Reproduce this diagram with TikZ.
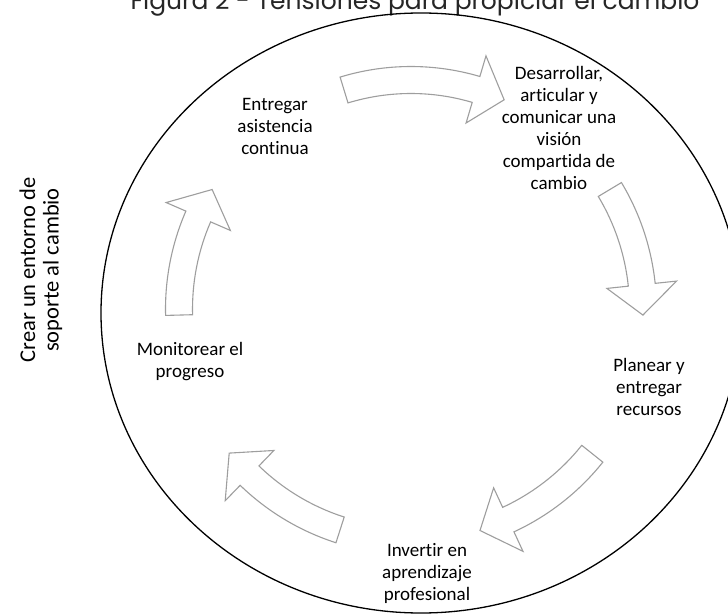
\documentclass[tikz,border=0pt]{standalone}
\usepackage{fontspec}
\setmainfont{Carlito}[Ligatures={NoCommon}]
\newfontfamily\titlefont{Poppins}
\usetikzlibrary{calc}

\begin{document}
\begin{tikzpicture}[
  x=1pt, y=1pt,
  lbl/.style={align=center, font=\fontsize{19}{22}\selectfont, inner sep=0pt},
  side/.style={align=center, font=\fontsize{22.5}{23.5}\selectfont, inner sep=0pt, rotate=90},
  flow/.style={draw=black!38, fill=white, line width=1.1pt, line join=miter},
  ring/.style={draw=black, line width=1.3pt},
]
\useasboundingbox (0,0) rectangle (728,614);
\clip (0,0) rectangle (728,614);
\coordinate (c) at (411,305);

\node[font=\titlefont\fontsize{25}{29}\selectfont, text=black!85, anchor=base] (title) at (415,604) {Figura 2 - Tensiones para propiciar el cambio};
\draw[ring] (421,301) ellipse [x radius=320, y radius=300];

\foreach \a/\b/\r in {107/66/229, 31/-1.5/232, -38.6/-72.7/232, -107.8/-141.6/232, 181.5/149/232}{
  \pgfmathsetmacro{\h}{\b+7.5}
  \draw[flow] ($(c)+(\a:\r+13.5)$) arc[start angle=\a, end angle=\h, radius=\r+13.5]
    -- ($(c)+(\h:\r+35)$) -- ($(c)+(\b:\r)$) -- ($(c)+(\h:\r-35)$)
    -- ($(c)+(\h:\r-13.5)$) arc[start angle=\h, end angle=\a, radius=\r-13.5] -- cycle;
}

\node[lbl] (entregar) at (275,488) {Entregar\\asistencia\\continua};
\node[lbl] (desarrollar) at (559,486) {Desarrollar,\\articular y\\comunicar una\\visión\\compartida de\\cambio};
\node[lbl] (planear) at (649,227) {Planear y\\entregar\\recursos};
\node[lbl] (invertir) at (427,41) {Invertir en\\aprendizaje\\profesional};
\node[lbl] (monitorear) at (190,252) {Monitorear el\\progreso};
\node[side] (crear) at (41,344) {Crear un entorno de\\soporte al cambio};
\end{tikzpicture}
\end{document}
